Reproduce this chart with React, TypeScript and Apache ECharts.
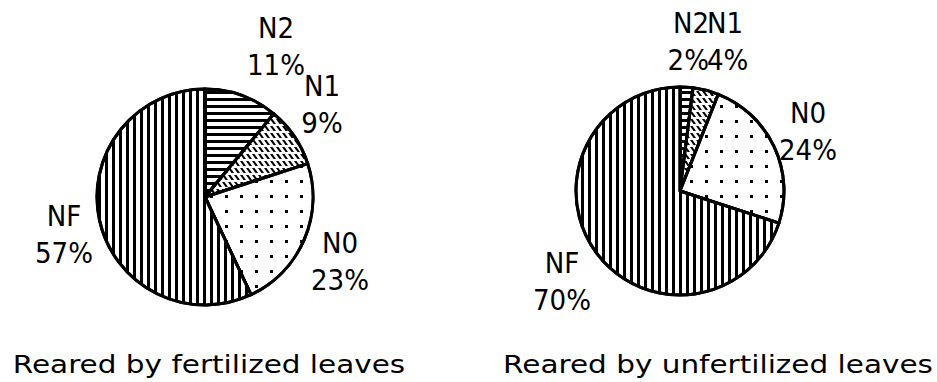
import React, { useEffect, useRef } from "react";
import * as echarts from "echarts";

const categories = ["N2", "N1", "N0", "NF"];
const fertilizedValues = [11, 9, 23, 57];
const unfertilizedValues = [2, 4, 24, 70];
const chartTitles = ["Reared by fertilized leaves", "Reared by unfertilized leaves"];

// label anchor positions (layout, not data)
const labelPos: [number, number, string][][] = [
  [[276, 46, "center"], [322, 104, "center"], [340, 261, "center"], [64, 234, "center"]],
  [[709, 41, "right"], [707, 41, "left"], [808, 131, "center"], [562, 281, "center"]],
];

const decals: any[] = [
  // N2: horizontal lines
  { symbol: "rect", symbolSize: 1, dashArrayX: [10, 0], dashArrayY: [3, 4], color: "#000", backgroundColor: "#fff" },
  // N1: rows of short diagonal strokes
  { symbol: "path://M0,0 L2.5,0 L6,5 L3.5,5 Z", symbolSize: 1, dashArrayX: [6, 0], dashArrayY: [5, 2], color: "#000", backgroundColor: "#fff" },
  // N0: dots
  { symbol: "rect", symbolSize: 1, dashArrayX: [3, 12], dashArrayY: [3, 12], color: "#000", backgroundColor: "#fff" },
  // NF: vertical lines
  { symbol: "rect", symbolSize: 1, dashArrayX: [3, 4], dashArrayY: [10, 0], color: "#000", backgroundColor: "#fff" },
];

const labelFont = "'DejaVu Sans Condensed', 'Liberation Sans', sans-serif";

function makeSeries(values: number[], idx: number, center: [number, number], radius: number) {
  return {
    type: "pie",
    center,
    radius,
    startAngle: 90,
    clockwise: true,
    silent: true,
    data: categories.map((name, i) => ({
      name,
      value: values[i],
      itemStyle: { color: "#fff", borderColor: "#000", borderWidth: 3, decal: decals[i] },
    })),
    label: {
      show: true,
      position: "outside",
      formatter: "{b}\n{c}%",
      fontFamily: labelFont,
      fontSize: 29,
      lineHeight: 37,
      color: "#000",
      overflow: "none",
      alignTo: "none",
    },
    labelLine: { show: false },
    labelLayout: (p: any) => {
      const [x, y, align] = labelPos[idx][p.dataIndex];
      return { x, y, align, verticalAlign: "middle" };
    },
  };
}

export default function App() {
  const ref = useRef<HTMLDivElement>(null);
  useEffect(() => {
    document.body.style.margin = "0";
    const chart = echarts.init(ref.current!, null, { renderer: "svg" });
    const titleStyle = { align: "center", verticalAlign: "middle", fontFamily: "DejaVu Sans", fontSize: 25, fill: "#000" };
    chart.setOption({
      animation: false,
      backgroundColor: "#fff",
      graphic: [
        { type: "text", x: 209, y: 364, scaleX: 1.18, style: { ...titleStyle, text: chartTitles[0], x: 0, y: 0 } },
        { type: "text", x: 718, y: 364, scaleX: 1.18, style: { ...titleStyle, text: chartTitles[1], x: 0, y: 0 } },
      ],
      series: [
        makeSeries(fertilizedValues, 0, [205, 197], 108),
        makeSeries(unfertilizedValues, 1, [680, 191], 104),
      ],
    });
    return () => chart.dispose();
  }, []);
  return <div ref={ref} style={{ width: 937, height: 382 }} />;
}
